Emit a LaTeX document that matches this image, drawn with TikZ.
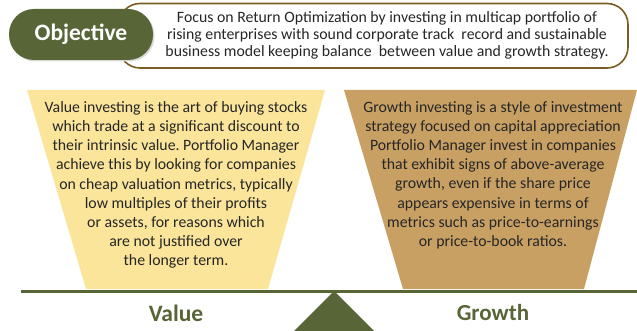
\documentclass[tikz,border=0pt]{standalone}
\usepackage{fontspec}
\setmainfont{Carlito}
\frenchspacing
\definecolor{olive}{RGB}{88,101,54}
\definecolor{lightgold}{RGB}{250,229,155}
\definecolor{tan}{RGB}{200,160,99}
\definecolor{brownline}{RGB}{122,92,34}
\definecolor{txt}{RGB}{38,38,38}
\begin{document}
\begin{tikzpicture}[x=1pt,y=-1pt,
  bodytext/.style={text=txt, align=center, font=\fontsize{15.8}{19.2}\selectfont\frenchspacing, inner sep=0pt},
  label/.style={text=olive, font=\fontsize{23.5}{26}\selectfont\bfseries, inner sep=0pt}]
\useasboundingbox (0,0) rectangle (637,331);
\begin{scope}
\clip (0,0) rectangle (637,331);
% objective box
\draw[brownline, line width=1.6pt, rounded corners=21pt] (119,3.5) rectangle (628,68);
\node[fill=black!15, rounded corners=25pt, minimum width=144pt, minimum height=51pt, inner sep=0pt] at (82.5,36) {};
\node[fill=olive, rounded corners=25pt, minimum width=144pt, minimum height=51pt, inner sep=0pt, text=white, font=\fontsize{23.5}{26}\selectfont\bfseries] (obj) at (81,34.5) {Objective};
\node[bodytext, font=\fontsize{15.8}{17}\selectfont\frenchspacing] (objtext) at (387,35) {Focus on Return Optimization by investing in multicap portfolio of\\rising enterprises with sound corporate track\ \ record and sustainable\\business model keeping balance\ \ between value and growth strategy.};
% trapezoids
\fill[lightgold] (27,90) -- (325,90) -- (268,289) -- (86,289) -- cycle;
\fill[tan] (344,90) -- (637,90) -- (584,289) -- (403,289) -- cycle;
\node[bodytext] (valtext) at (176,185) {Value investing is the art of buying stocks\\which trade at a significant discount to\\their intrinsic value. Portfolio Manager\\achieve this by looking for companies\\on cheap valuation metrics, typically\\low multiples of their profits\\or assets, for reasons which\\are not justified over\\the longer term.};
\node[bodytext] (growtext) at (493,175) {Growth investing is a style of investment\\strategy focused on capital appreciation\\Portfolio Manager invest in companies\\that exhibit signs of above-average\\growth, even if the share price\\appears expensive in terms of\\metrics such as price-to-earnings\\or price-to-book ratios.};
% balance
\draw[olive, line width=3pt] (21,291) -- (640,291);
\fill[olive] (334,291) -- (380,337) -- (288,337) -- cycle;
\node[label] (val) at (176,313) {Value};
\node[label, font=\fontsize{23}{26}\selectfont\bfseries] (gro) at (493,313) {Growth};
\end{scope}
\end{tikzpicture}
\end{document}
